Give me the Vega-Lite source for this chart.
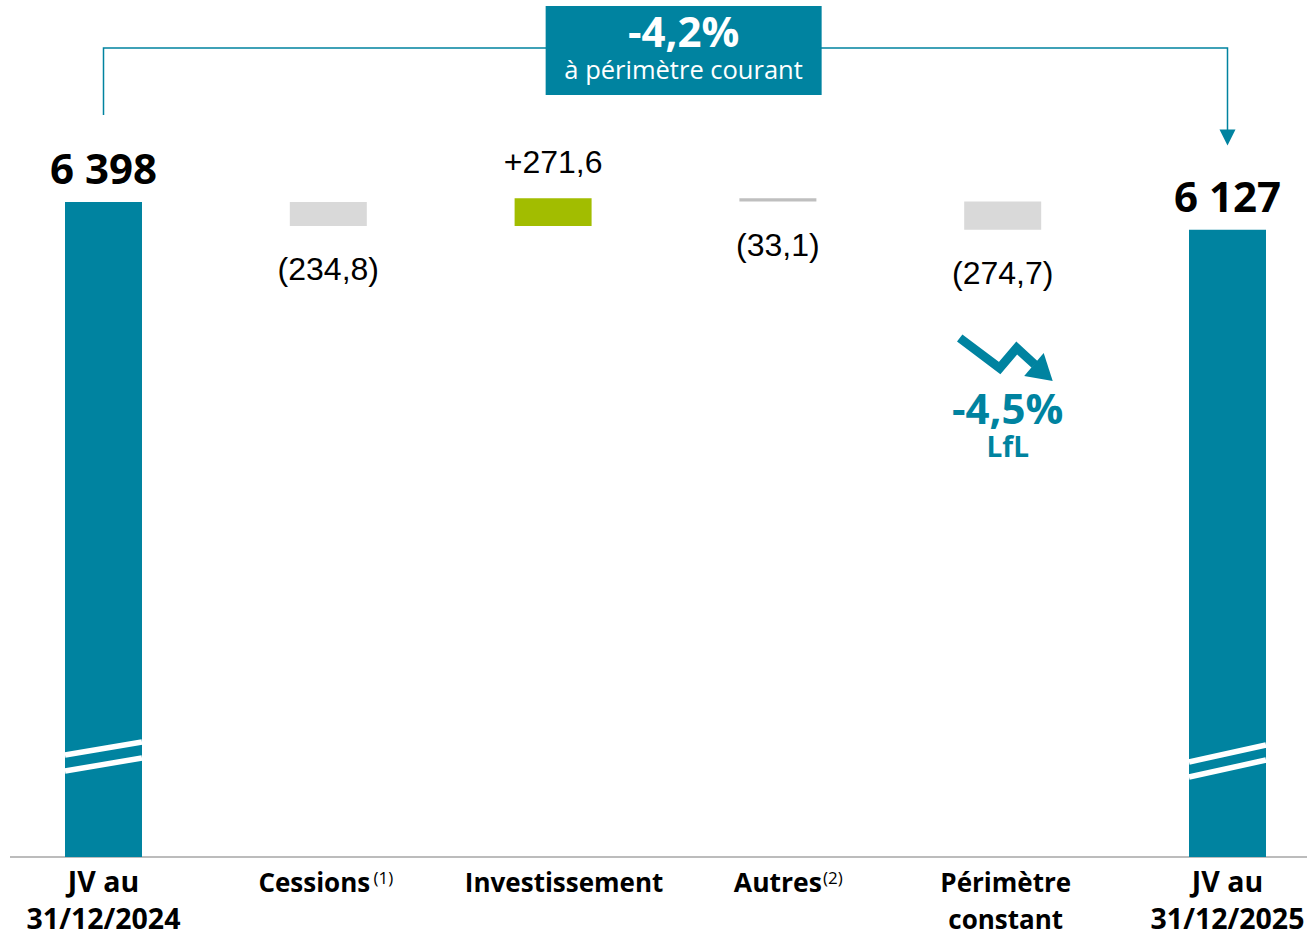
{
  "$schema": "https://vega.github.io/schema/vega-lite/v6.json",
  "width": 1297,
  "height": 857,
  "autosize": {"type": "none"},
  "padding": {"left": 10, "top": 0, "right": 0, "bottom": 79},
  "background": "white",
  "config": {"view": {"stroke": null}},
  "data": {"values": [
    {"cat": "JV au 31/12/2024", "name": "JV au\n31/12/2024", "note": "", "start": 0, "end": 6398, "lbl": "6 398", "kind": "total"},
    {"cat": "Cessions", "name": "Cessions", "note": "(1)", "start": 6398, "end": 6163.2, "lbl": "(234,8)", "kind": "down"},
    {"cat": "Investissement", "name": "Investissement", "note": "", "start": 6163.2, "end": 6434.8, "lbl": "+271,6", "kind": "up"},
    {"cat": "Autres", "name": "Autres", "note": "(2)", "start": 6434.8, "end": 6401.7, "lbl": "(33,1)", "kind": "down"},
    {"cat": "Périmètre constant", "name": "Périmètre\nconstant", "note": "", "start": 6401.7, "end": 6127, "lbl": "(274,7)", "kind": "down"},
    {"cat": "JV au 31/12/2025", "name": "JV au\n31/12/2025", "note": "", "start": 0, "end": 6127, "lbl": "6 127", "kind": "total"}
  ]},
  "layer": [
    {
      "data": {"values": [{"k": 1}]},
      "mark": {"type": "rule", "color": "#A6A6A6", "strokeWidth": 1.5},
      "encoding": {"y": {"datum": 0, "type": "quantitative", "scale": {"domain": [0, 8371], "nice": false, "zero": false}, "axis": null}}
    },
    {
      "mark": {"type": "bar"},
      "encoding": {
        "x": {
          "field": "cat", "type": "nominal",
          "scale": {
            "type": "band",
            "domain": ["JV au 31/12/2024", "Cessions", "Investissement", "Autres", "Périmètre constant", "JV au 31/12/2025"],
            "range": [-18.9, 1329.9],
            "paddingInner": 0.6575,
            "paddingOuter": 0.32875
          },
          "axis": null
        },
        "y": {"field": "start", "type": "quantitative", "axis": null},
        "y2": {"field": "end"},
        "color": {
          "field": "cat", "type": "nominal", "legend": null,
          "scale": {
            "domain": ["JV au 31/12/2024", "Cessions", "Investissement", "Autres", "Périmètre constant", "JV au 31/12/2025"],
            "range": ["#0083A0", "#D9D9D9", "#A2BD00", "#BFBFBF", "#D9D9D9", "#0083A0"]
          }
        }
      }
    },
    {
      "transform": [{"filter": "datum.kind == 'total'"}],
      "mark": {"type": "text", "font": "Open Sans", "fontWeight": "bold", "fontSize": 42, "color": "black", "align": "center", "baseline": "alphabetic", "dy": -18},
      "encoding": {"x": {"field": "cat", "type": "nominal"}, "y": {"field": "end", "type": "quantitative"}, "text": {"field": "lbl", "type": "nominal"}}
    },
    {
      "transform": [{"filter": "datum.kind == 'down'"}],
      "mark": {"type": "text", "font": "Liberation Sans", "fontSize": 32, "color": "black", "align": "center", "baseline": "alphabetic", "dy": 54},
      "encoding": {"x": {"field": "cat", "type": "nominal"}, "y": {"field": "end", "type": "quantitative"}, "text": {"field": "lbl", "type": "nominal"}}
    },
    {
      "transform": [{"filter": "datum.kind == 'up'"}],
      "mark": {"type": "text", "font": "Liberation Sans", "fontSize": 32, "color": "black", "align": "center", "baseline": "alphabetic", "dy": -25},
      "encoding": {"x": {"field": "cat", "type": "nominal"}, "y": {"field": "end", "type": "quantitative"}, "text": {"field": "lbl", "type": "nominal"}}
    },
    {
      "transform": [{"filter": "datum.kind == 'total'"}],
      "mark": {"type": "text", "font": "Open Sans", "fontWeight": "bold", "fontSize": 28.5, "color": "black", "align": "center", "baseline": "alphabetic", "dy": 35, "lineBreak": "\n", "lineHeight": 37},
      "encoding": {"x": {"field": "cat", "type": "nominal"}, "y": {"datum": 0, "type": "quantitative"}, "text": {"field": "name", "type": "nominal"}}
    },
    {
      "transform": [{"filter": "datum.cat == 'Périmètre constant'"}],
      "mark": {"type": "text", "font": "Open Sans", "fontWeight": "bold", "fontSize": 26, "color": "black", "align": "center", "baseline": "alphabetic", "dy": 35, "dx": 3, "lineBreak": "\n", "lineHeight": 37},
      "encoding": {"x": {"field": "cat", "type": "nominal"}, "y": {"datum": 0, "type": "quantitative"}, "text": {"field": "name", "type": "nominal"}}
    },
    {
      "transform": [{"filter": "datum.cat == 'Investissement'"}],
      "mark": {"type": "text", "font": "Open Sans", "fontWeight": "bold", "fontSize": 26, "color": "black", "align": "center", "baseline": "alphabetic", "dy": 35, "dx": 11},
      "encoding": {"x": {"field": "cat", "type": "nominal"}, "y": {"datum": 0, "type": "quantitative"}, "text": {"field": "name", "type": "nominal"}}
    },
    {
      "transform": [{"filter": "datum.cat == 'Cessions'"}],
      "mark": {"type": "text", "font": "Open Sans", "fontWeight": "bold", "fontSize": 26, "color": "black", "align": "center", "baseline": "alphabetic", "dy": 35, "dx": -14},
      "encoding": {"x": {"field": "cat", "type": "nominal"}, "y": {"datum": 0, "type": "quantitative"}, "text": {"field": "name", "type": "nominal"}}
    },
    {
      "transform": [{"filter": "datum.cat == 'Autres'"}],
      "mark": {"type": "text", "font": "Open Sans", "fontWeight": "bold", "fontSize": 26.5, "color": "black", "align": "center", "baseline": "alphabetic", "dy": 35, "dx": 0},
      "encoding": {"x": {"field": "cat", "type": "nominal"}, "y": {"datum": 0, "type": "quantitative"}, "text": {"field": "name", "type": "nominal"}}
    },
    {
      "transform": [{"filter": "datum.note != ''"}],
      "mark": {"type": "text", "font": "Open Sans", "fontSize": 17, "color": "black", "align": "center", "baseline": "alphabetic", "dy": 27, "dx": 55},
      "encoding": {"x": {"field": "cat", "type": "nominal"}, "y": {"datum": 0, "type": "quantitative"}, "text": {"field": "note", "type": "nominal"}}
    },
    {
      "data": {"values": [{"cat": "JV au 31/12/2024", "v": 981.7, "path": "M-1,-0.039L1,-0.377M-1,0.377L1,0.039"}, {"cat": "JV au 31/12/2025", "v": 937.7, "path": "M-1,0.026L1,-0.416M-1,0.416L1,-0.026"}]},
      "mark": {"type": "point", "size": 5929, "filled": false, "color": "white", "strokeWidth": 5.5, "opacity": 1},
      "encoding": {"x": {"field": "cat", "type": "nominal"}, "y": {"field": "v", "type": "quantitative"}, "shape": {"field": "path", "type": "nominal", "scale": null}}
    },
    {
      "data": {"values": [
        {"cat": "JV au 31/12/2024", "v": 7247.8, "o": 1},
        {"cat": "JV au 31/12/2024", "v": 7902.3, "o": 2},
        {"cat": "JV au 31/12/2025", "v": 7902.3, "o": 3},
        {"cat": "JV au 31/12/2025", "v": 7091.5, "o": 4}
      ]},
      "mark": {"type": "line", "color": "#0083A0", "strokeWidth": 1.5, "strokeJoin": "miter"},
      "encoding": {
        "x": {"field": "cat", "type": "nominal"},
        "y": {"field": "v", "type": "quantitative"},
        "order": {"field": "o", "type": "quantitative"}
      }
    },
    {
      "data": {"values": [{"cat": "JV au 31/12/2025", "v": 7028}]},
      "mark": {"type": "point", "shape": "M-1,-1L1,-1L0,1Z", "size": 256, "filled": true, "color": "#0083A0", "opacity": 1},
      "encoding": {"x": {"field": "cat", "type": "nominal"}, "y": {"field": "v", "type": "quantitative"}}
    },
    {
      "data": {"values": [{"cat": "Investissement", "v": 7877.8}]},
      "mark": {"type": "point", "shape": "M-0.054,-0.3225L1.946,-0.3225L1.946,0.3225L-0.054,0.3225Z", "size": 76176, "filled": true, "color": "#0083A0", "opacity": 1},
      "encoding": {"x": {"field": "cat", "type": "nominal"}, "y": {"field": "v", "type": "quantitative"}}
    },
    {
      "data": {"values": [{"cat": "Investissement", "v": 7912, "t": "-4,2%"}]},
      "mark": {"type": "text", "font": "Open Sans", "fontWeight": "bold", "fontSize": 42, "color": "white", "align": "center", "baseline": "alphabetic", "dx": 130.5},
      "encoding": {"x": {"field": "cat", "type": "nominal"}, "y": {"field": "v", "type": "quantitative"}, "text": {"field": "t", "type": "nominal"}}
    },
    {
      "data": {"values": [{"cat": "Investissement", "v": 7599.6, "t": "à périmètre courant"}]},
      "mark": {"type": "text", "font": "Open Sans", "fontSize": 25.5, "color": "white", "align": "center", "baseline": "alphabetic", "dx": 130.5},
      "encoding": {"x": {"field": "cat", "type": "nominal"}, "y": {"field": "v", "type": "quantitative"}, "text": {"field": "t", "type": "nominal"}}
    },
    {
      "data": {"values": [{"cat": "Périmètre constant", "v": 4864.4}]},
      "mark": {"type": "point", "shape": "M-0.86,-0.42L-0.06,0.18L0.28,-0.22L0.64,0.11", "size": 10000, "filled": false, "color": "#0083A0", "strokeWidth": 9, "strokeJoin": "miter", "opacity": 1},
      "encoding": {"x": {"field": "cat", "type": "nominal"}, "y": {"field": "v", "type": "quantitative"}}
    },
    {
      "data": {"values": [{"cat": "Périmètre constant", "v": 4864.4}]},
      "mark": {"type": "point", "shape": "M0.43,0.34L0.82,-0.12L1.0,0.44Z", "size": 10000, "filled": true, "color": "#0083A0", "opacity": 1},
      "encoding": {"x": {"field": "cat", "type": "nominal"}, "y": {"field": "v", "type": "quantitative"}}
    },
    {
      "data": {"values": [{"cat": "Périmètre constant", "v": 4229.5, "t": "-4,5%"}, {"cat": "Périmètre constant", "v": 3907.2, "t": "LfL"}]},
      "mark": {"type": "text", "font": "Open Sans", "fontWeight": "bold", "color": "#0083A0", "align": "center", "baseline": "alphabetic", "dx": 5},
      "encoding": {
        "x": {"field": "cat", "type": "nominal"},
        "y": {"field": "v", "type": "quantitative"},
        "text": {"field": "t", "type": "nominal"},
        "size": {"field": "t", "type": "nominal", "scale": {"domain": ["-4,5%", "LfL"], "range": [42, 28]}, "legend": null}
      }
    }
  ]
}
